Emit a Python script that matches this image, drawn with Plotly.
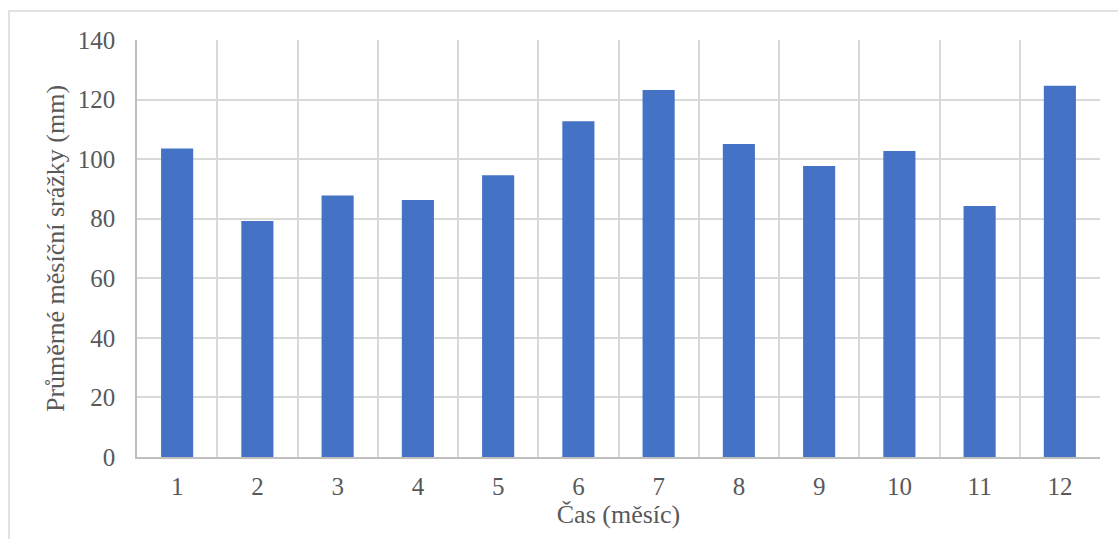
import plotly.graph_objects as go

months = [1, 2, 3, 4, 5, 6, 7, 8, 9, 10, 11, 12]
rainfall = [103.6, 79.2, 87.8, 86.3, 94.6, 112.7, 123.2, 105.1, 97.7, 102.7, 84.3, 124.6]
y_ticks = [0, 20, 40, 60, 80, 100, 120, 140]

FONT = "Liberation Serif, Times New Roman, serif"
TXT = "#595959"
GRID = "#d9d9d9"

fig = go.Figure(go.Bar(
    x=months, y=rainfall,
    marker=dict(color="#4472C4", line=dict(width=0)),
    width=0.4,
))

fig.update_layout(
    width=1118, height=539,
    margin=dict(l=137, r=18, t=40, b=82),
    paper_bgcolor="white", plot_bgcolor="white",
    showlegend=False,
    font=dict(family=FONT, color=TXT, size=25),
    xaxis=dict(
        range=[0.5, 12.5],
        tickmode="array", tickvals=months, ticktext=[str(m) for m in months],
        tickfont=dict(size=25),
        showgrid=False,
        minor=dict(tick0=0.5, dtick=1, showgrid=True, gridcolor=GRID, gridwidth=1.5, ticks=""),
        showline=True, linecolor="#bfbfbf", linewidth=1.5,
        ticks="", ticklabelstandoff=6,
        title=dict(text="Čas (měsíc)", font=dict(size=26, color=TXT), standoff=0),
        zeroline=False, mirror=False,
    ),
    yaxis=dict(
        range=[0, 140],
        tickmode="array", tickvals=y_ticks,
        tickfont=dict(size=25),
        showgrid=True, gridcolor=GRID, gridwidth=1.5,
        showline=True, linecolor="#bfbfbf", linewidth=1.5,
        ticks="", ticklabelstandoff=15,
        title=dict(text="Průměrné měsíční srážky (mm)", font=dict(size=26, color=TXT), standoff=6),
        zeroline=False,
    ),
    shapes=[dict(type="rect", xref="paper", yref="paper",
                 x0=-0.1329, x1=1.03, y0=-0.25, y1=1.0695,
                 line=dict(color=GRID, width=1.5), fillcolor="rgba(0,0,0,0)", layer="below")],
)

fig.write_html("out.html")
